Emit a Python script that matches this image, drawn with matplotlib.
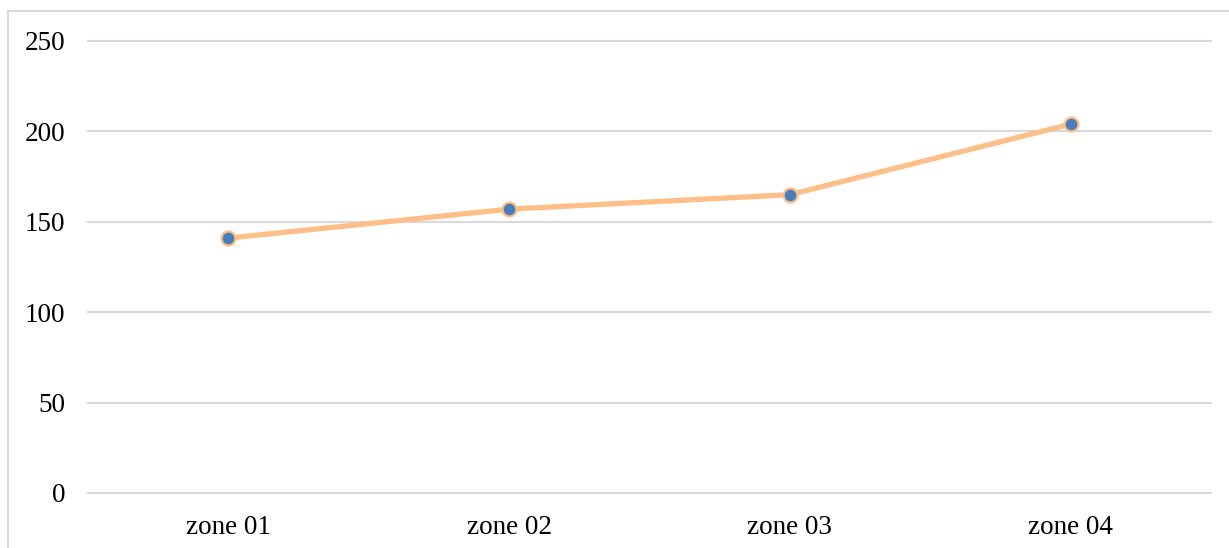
import matplotlib.pyplot as plt
from matplotlib.patches import Rectangle

zones = ["zone 01", "zone 02", "zone 03", "zone 04"]
counts = [141, 157, 165, 204]
y_ticks = [0, 50, 100, 150, 200, 250]

plt.rcParams['font.family'] = ['Liberation Serif', 'DejaVu Serif']

fig = plt.figure(figsize=(12.29, 5.48), dpi=100)
ax = fig.add_axes([88 / 1229, 55 / 548, 1123 / 1229, 452 / 548])

# outer frame of the chart area (top and left edges show)
fig.patches.append(Rectangle((8 / 1229, -0.1), 1.2, 1.1 - 11.5 / 548,
                             transform=fig.transFigure, fill=False,
                             edgecolor="#d9d9d9", linewidth=1.5, zorder=0))

x = list(range(len(zones)))
ax.plot(x, counts, color="#fdbf87", linewidth=3.8, solid_capstyle="round",
        marker="o", markersize=10, markerfacecolor="#4a7ebb",
        markeredgecolor="#fdbf87", markeredgewidth=1.6, zorder=3)

ax.set_xlim(-0.5, len(zones) - 0.5)
ax.set_ylim(0, 250)
ax.set_yticks(y_ticks)
ax.set_xticks(x)
ax.set_xticklabels(zones)
ax.grid(axis="y", color="#d9d9d9", linewidth=1.5)
for gl in ax.get_ygridlines():
    gl.set_clip_on(False)
ax.set_axisbelow(True)
for s in ax.spines.values():
    s.set_visible(False)
ax.tick_params(length=0, labelsize=19.5, colors="black")
ax.tick_params(axis="y", pad=16.5)
ax.tick_params(axis="x", pad=15.5)

fig.savefig("out.png", dpi=100)
